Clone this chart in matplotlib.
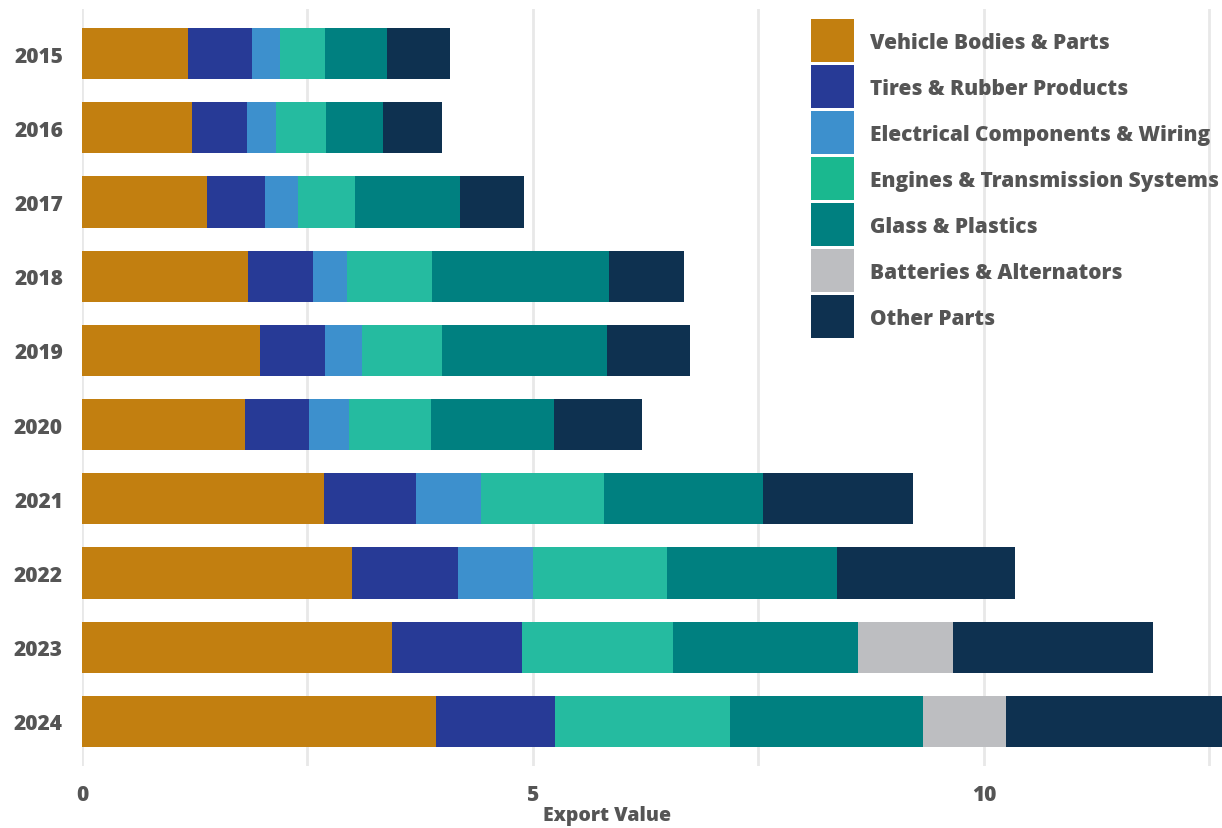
import matplotlib
matplotlib.use("Agg")
import matplotlib.pyplot as plt
from matplotlib.patches import Rectangle
import numpy as np

years = ["2015", "2016", "2017", "2018", "2019", "2020", "2021", "2022", "2023", "2024"]
categories = [
    "Vehicle Bodies & Parts",
    "Tires & Rubber Products",
    "Electrical Components & Wiring",
    "Engines & Transmission Systems",
    "Glass & Plastics",
    "Batteries & Alternators",
    "Other Parts",
]
vehicle_bodies = [1.18, 1.22, 1.39, 1.84, 1.97, 1.81, 2.68, 2.99, 3.44, 3.92]
tires_rubber = [0.71, 0.61, 0.64, 0.72, 0.72, 0.71, 1.02, 1.18, 1.44, 1.32]
electrical = [0.31, 0.32, 0.37, 0.38, 0.42, 0.44, 0.72, 0.83, 0.0, 0.0]
engines = [0.49, 0.55, 0.63, 0.94, 0.88, 0.91, 1.37, 1.49, 1.67, 1.95]
glass_plastics = [0.69, 0.64, 1.16, 1.96, 1.83, 1.36, 1.76, 1.88, 2.05, 2.13]
batteries = [0.0, 0.0, 0.0, 0.0, 0.0, 0.0, 0.0, 0.0, 1.06, 0.92]
other_parts = [0.70, 0.65, 0.71, 0.84, 0.92, 0.98, 1.66, 1.98, 2.21, 2.40]

series = [vehicle_bodies, tires_rubber, electrical, engines,
          glass_plastics, batteries, other_parts]
bar_colors = ["#c27f10", "#273a96", "#3d90cd", "#25bba0", "#008080", "#bdbec1", "#0e3150"]
legend_colors = ["#c27f10", "#273a96", "#3d90cd", "#1ab88f", "#008080", "#bdbec1", "#0e3150"]

plt.rcParams["font.family"] = ["Open Sans", "DejaVu Sans"]
text_color = "#555555"
W, H = 1222, 829

fig = plt.figure(figsize=(W / 100, H / 100), dpi=100)
ax = fig.add_axes([82 / W, 1 - 767 / H, 1140 / W, 757 / H])

y = np.arange(len(years))
left = np.zeros(len(years))
for vals, col in zip(series, bar_colors):
    vals = np.array(vals)
    ax.barh(y, vals, left=left, height=0.69, color=col, linewidth=0, zorder=3)
    left += vals

totals = left
ax.set_xlim(0, totals.max())
ax.set_ylim(len(years) - 0.4, -0.6)

ax.set_xticks([0, 5, 10])
ax.set_xticks([2.5, 7.5, 12.5], minor=True)
ax.grid(axis="x", which="both", color="#e8e8e8", linewidth=2, zorder=0)
ax.tick_params(axis="x", which="both", length=0, pad=13, labelsize=15, labelcolor=text_color)
ax.tick_params(axis="y", length=0, pad=13.7, labelsize=15, labelcolor=text_color)
ax.set_yticks(y)
ax.set_yticklabels(years)
for lbl in ax.get_xticklabels() + ax.get_yticklabels():
    lbl.set_fontweight(800)
for s in ax.spines.values():
    s.set_visible(False)

ax.set_xlabel("Export Value", fontsize=14, fontweight=800, color=text_color)
ax.xaxis.set_label_coords(0.461, -0.052)

# legend: colour squares with labels, stacked in the upper right
box = 43
step = 46
x0, y0 = 811, 20
for i, (col, lab) in enumerate(zip(legend_colors, categories)):
    top = y0 + i * step
    fig.patches.append(Rectangle((x0 / W, 1 - (top + box) / H), box / W, box / H,
                                 transform=fig.transFigure, facecolor=col,
                                 edgecolor="none"))
    fig.text(870 / W, 1 - (top + box / 2 + 2) / H, lab, fontsize=15, fontweight=800,
             color=text_color, va="center", ha="left")

fig.savefig("out.png", dpi=100)
